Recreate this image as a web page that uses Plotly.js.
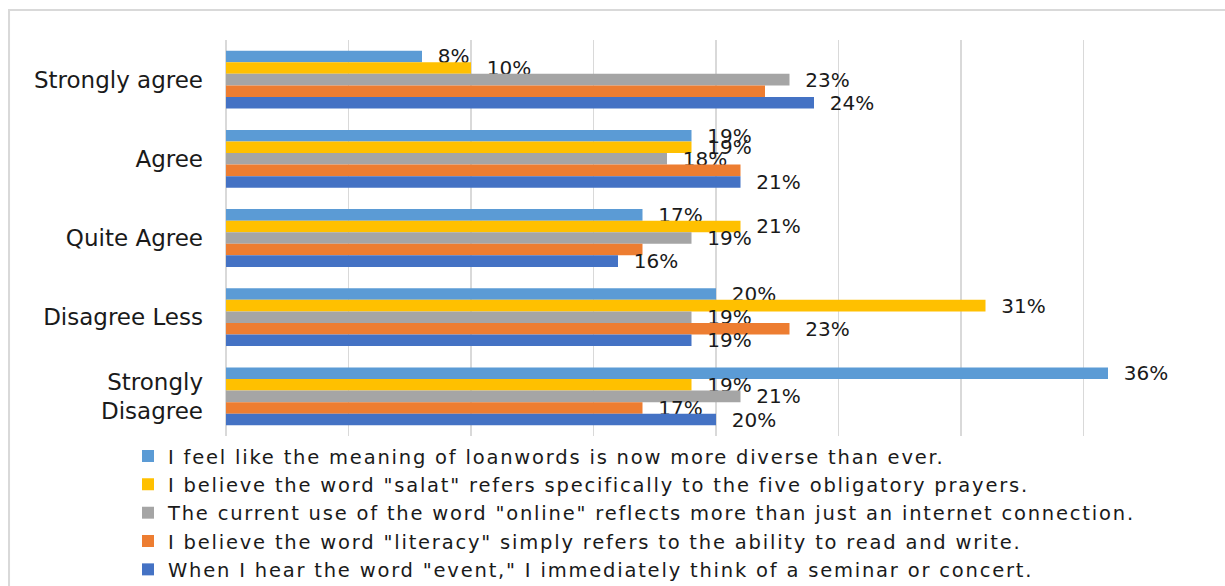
<!DOCTYPE html>
<html>
<head>
<meta charset="utf-8">
<script src="https://cdn.plot.ly/plotly-3.0.1.min.js"></script>
<style>
  html, body { margin: 0; padding: 0; background: #fff; }
  #chart { width: 1225px; height: 586px; }
  .legendtext { letter-spacing: 1.8px; }
</style>
</head>
<body>
<div id="chart"></div>
<script>
// Categories (top to bottom)
const categories = ["Strongly agree", "Agree", "Quite Agree", "Disagree Less", "Strongly<br>Disagree"];

// Series names (legend order, top to bottom)
const seriesNames = [
  "I feel like the meaning of loanwords is now more diverse than ever.",
  "I believe the word \"salat\" refers specifically to the five obligatory prayers.",
  "The current use of the word \"online\" reflects more than just an internet connection.",
  "I believe the word \"literacy\" simply refers to the ability to read and write.",
  "When I hear the word \"event,\" I immediately think of a seminar or concert."
];

// Values in percent, per series, in category order
const loanwords = [8, 19, 17, 20, 36];
const salat     = [10, 19, 21, 31, 19];
const online    = [23, 18, 19, 19, 21];
const literacy  = [22, 21, 17, 23, 17];
const eventWord = [24, 21, 16, 19, 20];

// Whether each data label is shown in the reference
const loanwordsShown = [true, true, true, true, true];
const salatShown     = [true, true, true, true, true];
const onlineShown    = [true, true, true, true, true];
const literacyShown  = [false, false, false, true, true];
const eventShown     = [true, true, true, true, true];

const seriesValues = [loanwords, salat, online, literacy, eventWord];
const seriesShown = [loanwordsShown, salatShown, onlineShown, literacyShown, eventShown];
const colors = ["#5B9BD5", "#FFC000", "#A5A5A5", "#ED7D31", "#4472C4"];

const FONT = "DejaVu Sans, sans-serif";
const TEXTCOL = "#1a1a1a";

const traces = seriesValues.map((vals, i) => ({
  type: "bar",
  orientation: "h",
  name: seriesNames[i],
  y: categories,
  x: vals,
  marker: { color: colors[i], line: { width: 0 } },
  text: vals.map((v, j) => seriesShown[i][j] ? "  " + v + "%" : ""),
  textposition: "outside",
  constraintext: "none",
  cliponaxis: false,
  textfont: { family: FONT, size: 20, color: TEXTCOL },
  hoverinfo: "x+y+name"
}));

const layout = {
  width: 1225,
  height: 586,
  margin: { l: 226, r: 19, t: 40, b: 150, autoexpand: false },
  paper_bgcolor: "#ffffff",
  plot_bgcolor: "#ffffff",
  barmode: "group",
  bargap: 0.27,
  bargroupgap: 0,
  showlegend: true,
  font: { family: FONT, color: TEXTCOL },
  xaxis: {
    range: [0, 40],
    dtick: 5,
    showgrid: true,
    gridcolor: "#d9d9d9",
    gridwidth: 1.5,
    zeroline: true,
    zerolinecolor: "#d9d9d9",
    zerolinewidth: 1.5,
    showticklabels: false,
    ticks: "",
    showline: false,
    fixedrange: true
  },
  yaxis: {
    type: "category",
    autorange: "reversed",
    showgrid: false,
    zeroline: false,
    showline: false,
    ticks: "",
    ticklabelstandoff: 22,
    tickfont: { family: FONT, size: 23, color: TEXTCOL },
    fixedrange: true
  },
  legend: {
    orientation: "v",
    x: -0.1,
    xanchor: "left",
    y: -0.002,
    yanchor: "top",
    traceorder: "normal",
    font: { family: FONT, size: 19.5, color: TEXTCOL },
    bgcolor: "rgba(0,0,0,0)",
    itemclick: false,
    itemdoubleclick: false
  },
  shapes: [{
    type: "rect",
    xref: "paper", yref: "paper",
    x0: -0.2214, x1: 1.2,
    y0: -0.6, y1: 1.0758,
    line: { color: "#d9d9d9", width: 2 },
    fillcolor: "rgba(0,0,0,0)",
    layer: "below"
  }]
};

Plotly.newPlot("chart", traces, layout, { displayModeBar: false, staticPlot: true });
</script>
</body>
</html>
